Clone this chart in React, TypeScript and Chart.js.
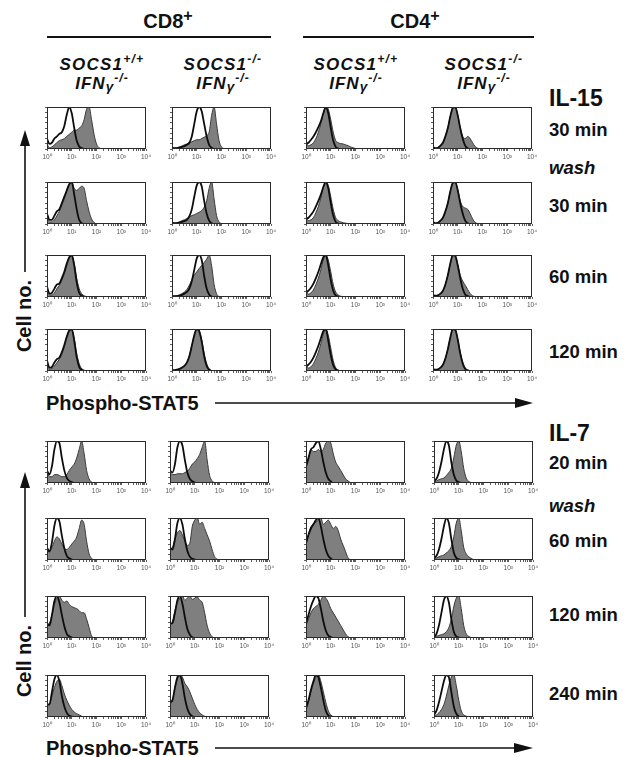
import React, { useEffect, useRef } from 'react';
import { Chart, registerables } from 'chart.js';

Chart.register(...registerables);

// ---------- axis / text content ----------
const LOG_BINS = [0, 0.1, 0.2, 0.3, 0.4, 0.5, 0.6, 0.7, 0.8, 0.9, 1.0, 1.1, 1.2, 1.3, 1.4, 1.5, 1.6, 1.7, 1.8, 1.9, 2.0, 2.1, 2.2, 4.0];
const X_TICK_LABELS = ['10⁰', '10¹', '10²', '10³', '10⁴'];
const GROUP_LABELS = ['CD8', 'CD4'];
const GENOTYPE_SUP = ['+/+', '-/-', '+/+', '-/-'];
const CYTOKINES = ['IL-15', 'IL-7'];
const IL15_ROW_LABELS = ['30 min', '30 min', '60 min', '120 min'];
const IL7_ROW_LABELS = ['20 min', '60 min', '120 min', '240 min'];
const WASH_LABEL = 'wash';
const X_TITLE = 'Phospho-STAT5';
const Y_TITLE = 'Cell no.';

// ---------- IL-15, 30 min ----------
const il15a_cd8wt_ctrl = [0.25, 0.12, 0.15, 0.25, 0.30, 0.36, 0.40, 0.55, 0.82, 1.00, 0.85, 0.50, 0.20, 0.06, 0.02, 0, 0, 0, 0, 0, 0, 0, 0, 0];
const il15a_cd8wt_stim = [0.12, 0.03, 0.05, 0.10, 0.15, 0.20, 0.22, 0.25, 0.30, 0.35, 0.40, 0.45, 0.45, 0.50, 0.55, 0.70, 0.95, 1.00, 0.70, 0.35, 0.12, 0.03, 0, 0];
const il15a_cd8ko_ctrl = [0.03, 0.02, 0.02, 0.03, 0.05, 0.07, 0.10, 0.15, 0.30, 0.60, 0.90, 1.00, 0.90, 0.60, 0.30, 0.10, 0.03, 0, 0, 0, 0, 0, 0, 0];
const il15a_cd8ko_stim = [0.02, 0.02, 0.03, 0.05, 0.07, 0.10, 0.12, 0.15, 0.17, 0.20, 0.22, 0.22, 0.25, 0.28, 0.32, 0.40, 0.80, 1.00, 0.60, 0.20, 0.05, 0.01, 0, 0];
const il15a_cd4wt_ctrl = [0.12, 0.15, 0.22, 0.30, 0.40, 0.52, 0.66, 0.85, 1.00, 0.85, 0.50, 0.20, 0.05, 0.01, 0, 0, 0, 0, 0, 0, 0, 0, 0, 0];
const il15a_cd4wt_stim = [0.15, 0.08, 0.10, 0.15, 0.25, 0.40, 0.60, 0.85, 1.00, 0.95, 0.70, 0.40, 0.20, 0.15, 0.13, 0.12, 0.10, 0.08, 0.05, 0.03, 0.01, 0, 0, 0];
const il15a_cd4ko_ctrl = [0.05, 0.02, 0.03, 0.08, 0.15, 0.30, 0.50, 0.78, 0.98, 1.00, 0.80, 0.50, 0.25, 0.08, 0.02, 0, 0, 0, 0, 0, 0, 0, 0, 0];
const il15a_cd4ko_stim = [0.05, 0.02, 0.03, 0.08, 0.15, 0.30, 0.50, 0.78, 0.98, 1.00, 0.80, 0.50, 0.30, 0.25, 0.30, 0.25, 0.15, 0.06, 0.02, 0, 0, 0, 0, 0];

// ---------- IL-15, wash 30 min ----------
const il15b_cd8wt_ctrl = [0.25, 0.10, 0.10, 0.20, 0.30, 0.35, 0.50, 0.65, 0.80, 0.95, 1.00, 0.70, 0.35, 0.10, 0.02, 0, 0, 0, 0, 0, 0, 0, 0, 0];
const il15b_cd8wt_stim = [0.15, 0.05, 0.05, 0.10, 0.20, 0.30, 0.45, 0.60, 0.80, 0.95, 1.00, 0.85, 0.80, 0.85, 0.90, 0.85, 0.55, 0.30, 0.12, 0.04, 0, 0, 0, 0];
const il15b_cd8ko_ctrl = [0.03, 0.02, 0.02, 0.03, 0.05, 0.07, 0.10, 0.18, 0.35, 0.65, 0.92, 1.00, 0.90, 0.55, 0.25, 0.08, 0.02, 0, 0, 0, 0, 0, 0, 0];
const il15b_cd8ko_stim = [0.02, 0.02, 0.03, 0.05, 0.08, 0.10, 0.13, 0.17, 0.20, 0.22, 0.25, 0.28, 0.32, 0.40, 0.55, 0.85, 1.00, 0.60, 0.20, 0.05, 0.01, 0, 0, 0];
const il15b_cd4wt_ctrl = [0.12, 0.15, 0.22, 0.30, 0.42, 0.55, 0.70, 0.88, 1.00, 0.85, 0.50, 0.20, 0.05, 0.01, 0, 0, 0, 0, 0, 0, 0, 0, 0, 0];
const il15b_cd4wt_stim = [0.15, 0.08, 0.10, 0.15, 0.27, 0.42, 0.62, 0.87, 1.00, 0.92, 0.65, 0.35, 0.15, 0.08, 0.05, 0.03, 0.02, 0.01, 0, 0, 0, 0, 0, 0];
const il15b_cd4ko_ctrl = [0.05, 0.02, 0.03, 0.08, 0.15, 0.30, 0.50, 0.78, 0.98, 1.00, 0.80, 0.50, 0.25, 0.08, 0.02, 0, 0, 0, 0, 0, 0, 0, 0, 0];
const il15b_cd4ko_stim = [0.05, 0.02, 0.03, 0.08, 0.15, 0.30, 0.50, 0.78, 0.98, 1.00, 0.82, 0.55, 0.42, 0.38, 0.35, 0.25, 0.12, 0.04, 0.01, 0, 0, 0, 0, 0];

// ---------- IL-15, 60 min ----------
const il15c_cd8wt_ctrl = [0.25, 0.08, 0.10, 0.20, 0.30, 0.32, 0.45, 0.60, 0.80, 0.95, 1.00, 0.75, 0.35, 0.10, 0.03, 0, 0, 0, 0, 0, 0, 0, 0, 0];
const il15c_cd8wt_stim = [0.15, 0.05, 0.05, 0.10, 0.20, 0.28, 0.40, 0.55, 0.75, 0.92, 0.98, 0.80, 0.45, 0.20, 0.08, 0.03, 0.01, 0, 0, 0, 0, 0, 0, 0];
const il15c_cd8ko_ctrl = [0.02, 0.02, 0.02, 0.03, 0.05, 0.08, 0.12, 0.20, 0.38, 0.65, 0.92, 1.00, 0.88, 0.50, 0.20, 0.06, 0.01, 0, 0, 0, 0, 0, 0, 0];
const il15c_cd8ko_stim = [0.02, 0.02, 0.03, 0.05, 0.08, 0.12, 0.18, 0.28, 0.40, 0.52, 0.60, 0.68, 0.75, 0.82, 0.90, 1.00, 0.75, 0.30, 0.08, 0.01, 0, 0, 0, 0];
const il15c_cd4wt_ctrl = [0.10, 0.15, 0.22, 0.32, 0.45, 0.60, 0.78, 0.95, 1.00, 0.75, 0.40, 0.15, 0.04, 0.01, 0, 0, 0, 0, 0, 0, 0, 0, 0, 0];
const il15c_cd4wt_stim = [0.12, 0.07, 0.10, 0.17, 0.30, 0.45, 0.65, 0.88, 1.00, 0.88, 0.60, 0.30, 0.12, 0.05, 0.02, 0.01, 0, 0, 0, 0, 0, 0, 0, 0];
const il15c_cd4ko_ctrl = [0.05, 0.03, 0.04, 0.08, 0.15, 0.30, 0.52, 0.80, 1.00, 0.98, 0.75, 0.45, 0.20, 0.06, 0.02, 0, 0, 0, 0, 0, 0, 0, 0, 0];
const il15c_cd4ko_stim = [0.05, 0.03, 0.04, 0.08, 0.15, 0.30, 0.52, 0.80, 1.00, 0.98, 0.78, 0.52, 0.38, 0.28, 0.18, 0.08, 0.03, 0.01, 0, 0, 0, 0, 0, 0];

// ---------- IL-15, 120 min ----------
const il15d_cd8wt_ctrl = [0.25, 0.08, 0.10, 0.20, 0.28, 0.32, 0.45, 0.62, 0.82, 0.97, 1.00, 0.72, 0.33, 0.10, 0.03, 0, 0, 0, 0, 0, 0, 0, 0, 0];
const il15d_cd8wt_stim = [0.15, 0.05, 0.06, 0.12, 0.20, 0.28, 0.40, 0.58, 0.78, 0.95, 0.98, 0.78, 0.42, 0.18, 0.06, 0.02, 0, 0, 0, 0, 0, 0, 0, 0];
const il15d_cd8ko_ctrl = [0.02, 0.02, 0.03, 0.05, 0.08, 0.12, 0.20, 0.35, 0.60, 0.85, 1.00, 0.95, 0.70, 0.35, 0.12, 0.03, 0, 0, 0, 0, 0, 0, 0, 0];
const il15d_cd8ko_stim = [0.02, 0.02, 0.03, 0.05, 0.08, 0.12, 0.20, 0.35, 0.60, 0.85, 1.00, 0.95, 0.75, 0.42, 0.18, 0.06, 0.01, 0, 0, 0, 0, 0, 0, 0];
const il15d_cd4wt_ctrl = [0.10, 0.15, 0.22, 0.32, 0.45, 0.60, 0.78, 0.95, 1.00, 0.72, 0.38, 0.14, 0.04, 0.01, 0, 0, 0, 0, 0, 0, 0, 0, 0, 0];
const il15d_cd4wt_stim = [0.12, 0.07, 0.10, 0.17, 0.30, 0.45, 0.65, 0.88, 1.00, 0.85, 0.55, 0.25, 0.08, 0.02, 0, 0, 0, 0, 0, 0, 0, 0, 0, 0];
const il15d_cd4ko_ctrl = [0.05, 0.03, 0.04, 0.08, 0.15, 0.30, 0.52, 0.80, 1.00, 0.98, 0.75, 0.42, 0.18, 0.05, 0.01, 0, 0, 0, 0, 0, 0, 0, 0, 0];
const il15d_cd4ko_stim = [0.05, 0.03, 0.04, 0.08, 0.15, 0.30, 0.52, 0.80, 1.00, 0.98, 0.76, 0.45, 0.22, 0.08, 0.03, 0.01, 0, 0, 0, 0, 0, 0, 0, 0];

// ---------- IL-7, 20 min ----------
const il7a_cd8wt_ctrl = [0.30, 0.20, 0.40, 0.80, 1.00, 0.95, 0.60, 0.30, 0.12, 0.05, 0.02, 0, 0, 0, 0, 0, 0, 0, 0, 0, 0, 0, 0, 0];
const il7a_cd8wt_stim = [0.25, 0.15, 0.15, 0.20, 0.20, 0.18, 0.15, 0.15, 0.20, 0.30, 0.38, 0.45, 0.60, 0.80, 1.00, 0.70, 0.30, 0.10, 0.02, 0, 0, 0, 0, 0];
const il7a_cd8ko_ctrl = [0.30, 0.25, 0.45, 0.85, 1.00, 0.90, 0.55, 0.25, 0.10, 0.04, 0.01, 0, 0, 0, 0, 0, 0, 0, 0, 0, 0, 0, 0, 0];
const il7a_cd8ko_stim = [0.25, 0.20, 0.20, 0.22, 0.22, 0.22, 0.25, 0.28, 0.35, 0.45, 0.50, 0.58, 0.68, 0.85, 1.00, 0.55, 0.18, 0.05, 0.01, 0, 0, 0, 0, 0];
const il7a_cd4wt_ctrl = [0.40, 0.60, 0.80, 0.85, 0.95, 1.00, 0.80, 0.50, 0.25, 0.10, 0.04, 0, 0, 0, 0, 0, 0, 0, 0, 0, 0, 0, 0, 0];
const il7a_cd4wt_stim = [0.35, 0.55, 0.80, 0.75, 0.75, 0.80, 0.75, 0.80, 0.95, 1.00, 0.95, 0.70, 0.50, 0.40, 0.30, 0.20, 0.10, 0.05, 0.01, 0, 0, 0, 0, 0];
const il7a_cd4ko_ctrl = [0.05, 0.10, 0.25, 0.50, 0.80, 1.00, 0.90, 0.50, 0.20, 0.06, 0.02, 0, 0, 0, 0, 0, 0, 0, 0, 0, 0, 0, 0, 0];
const il7a_cd4ko_stim = [0.02, 0.05, 0.08, 0.10, 0.12, 0.18, 0.25, 0.35, 0.60, 0.90, 1.00, 0.75, 0.35, 0.12, 0.04, 0.01, 0, 0, 0, 0, 0, 0, 0, 0];

// ---------- IL-7, wash 60 min ----------
const il7b_cd8wt_ctrl = [0.30, 0.20, 0.42, 0.82, 1.00, 0.92, 0.58, 0.28, 0.10, 0.04, 0.01, 0, 0, 0, 0, 0, 0, 0, 0, 0, 0, 0, 0, 0];
const il7b_cd8wt_stim = [0.25, 0.20, 0.30, 0.45, 0.55, 0.50, 0.38, 0.28, 0.25, 0.30, 0.38, 0.45, 0.55, 0.75, 0.95, 0.85, 0.45, 0.15, 0.04, 0, 0, 0, 0, 0];
const il7b_cd8ko_ctrl = [0.30, 0.25, 0.50, 0.88, 1.00, 0.85, 0.50, 0.22, 0.08, 0.03, 0.01, 0, 0, 0, 0, 0, 0, 0, 0, 0, 0, 0, 0, 0];
const il7b_cd8ko_stim = [0.25, 0.30, 0.50, 0.65, 0.70, 0.60, 0.45, 0.35, 0.40, 0.80, 0.95, 1.00, 0.85, 0.90, 0.75, 0.60, 0.45, 0.25, 0.08, 0.02, 0, 0, 0, 0];
const il7b_cd4wt_ctrl = [0.40, 0.60, 0.75, 0.85, 0.95, 1.00, 0.80, 0.50, 0.25, 0.10, 0.04, 0, 0, 0, 0, 0, 0, 0, 0, 0, 0, 0, 0, 0];
const il7b_cd4wt_stim = [0.35, 0.60, 0.80, 0.85, 0.90, 0.95, 1.00, 0.85, 0.90, 0.95, 0.85, 0.75, 0.80, 0.70, 0.50, 0.35, 0.20, 0.05, 0.01, 0, 0, 0, 0, 0];
const il7b_cd4ko_ctrl = [0.05, 0.10, 0.25, 0.50, 0.80, 1.00, 0.88, 0.50, 0.18, 0.05, 0.02, 0, 0, 0, 0, 0, 0, 0, 0, 0, 0, 0, 0, 0];
const il7b_cd4ko_stim = [0.02, 0.05, 0.08, 0.10, 0.12, 0.17, 0.22, 0.32, 0.55, 0.88, 1.00, 0.70, 0.30, 0.15, 0.08, 0.04, 0.01, 0, 0, 0, 0, 0, 0, 0];

// ---------- IL-7, 120 min ----------
const il7c_cd8wt_ctrl = [0.35, 0.30, 0.55, 0.88, 1.00, 0.85, 0.55, 0.28, 0.10, 0.04, 0.01, 0, 0, 0, 0, 0, 0, 0, 0, 0, 0, 0, 0, 0];
const il7c_cd8wt_stim = [0.30, 0.35, 0.55, 0.80, 0.95, 1.00, 0.90, 0.85, 0.88, 0.80, 0.75, 0.72, 0.70, 0.65, 0.60, 0.60, 0.45, 0.25, 0.05, 0, 0, 0, 0, 0];
const il7c_cd8ko_ctrl = [0.35, 0.35, 0.60, 0.90, 1.00, 0.82, 0.50, 0.22, 0.08, 0.02, 0, 0, 0, 0, 0, 0, 0, 0, 0, 0, 0, 0, 0, 0];
const il7c_cd8ko_stim = [0.30, 0.40, 0.65, 0.85, 0.95, 1.00, 0.90, 0.95, 1.00, 0.92, 0.95, 0.98, 0.90, 0.85, 0.60, 0.30, 0.12, 0.03, 0, 0, 0, 0, 0, 0];
const il7c_cd4wt_ctrl = [0.35, 0.55, 0.75, 0.90, 1.00, 0.95, 0.70, 0.40, 0.18, 0.06, 0.02, 0, 0, 0, 0, 0, 0, 0, 0, 0, 0, 0, 0, 0];
const il7c_cd4wt_stim = [0.30, 0.45, 0.60, 0.70, 0.75, 0.80, 0.90, 1.00, 0.95, 0.85, 0.70, 0.60, 0.50, 0.40, 0.30, 0.20, 0.10, 0.03, 0, 0, 0, 0, 0, 0];
const il7c_cd4ko_ctrl = [0.02, 0.10, 0.30, 0.60, 0.90, 1.00, 0.85, 0.45, 0.15, 0.04, 0.01, 0, 0, 0, 0, 0, 0, 0, 0, 0, 0, 0, 0, 0];
const il7c_cd4ko_stim = [0.02, 0.04, 0.06, 0.08, 0.10, 0.15, 0.25, 0.45, 0.75, 0.95, 1.00, 0.70, 0.30, 0.10, 0.04, 0.01, 0, 0, 0, 0, 0, 0, 0, 0];

// ---------- IL-7, 240 min ----------
const il7d_cd8wt_ctrl = [0.30, 0.30, 0.60, 0.90, 1.00, 0.85, 0.50, 0.25, 0.10, 0.03, 0.01, 0, 0, 0, 0, 0, 0, 0, 0, 0, 0, 0, 0, 0];
const il7d_cd8wt_stim = [0.25, 0.30, 0.50, 0.70, 0.85, 0.90, 0.75, 0.55, 0.40, 0.28, 0.18, 0.12, 0.08, 0.05, 0.02, 0, 0, 0, 0, 0, 0, 0, 0, 0];
const il7d_cd8ko_ctrl = [0.35, 0.40, 0.70, 0.95, 1.00, 0.80, 0.45, 0.20, 0.07, 0.02, 0, 0, 0, 0, 0, 0, 0, 0, 0, 0, 0, 0, 0, 0];
const il7d_cd8ko_stim = [0.30, 0.40, 0.70, 0.90, 1.00, 0.95, 0.80, 0.72, 0.60, 0.45, 0.30, 0.18, 0.10, 0.05, 0.02, 0, 0, 0, 0, 0, 0, 0, 0, 0];
const il7d_cd4wt_ctrl = [0.20, 0.40, 0.65, 0.85, 1.00, 0.95, 0.70, 0.40, 0.15, 0.04, 0.01, 0, 0, 0, 0, 0, 0, 0, 0, 0, 0, 0, 0, 0];
const il7d_cd4wt_stim = [0.25, 0.38, 0.60, 0.80, 0.95, 1.00, 0.85, 0.60, 0.35, 0.15, 0.05, 0.01, 0, 0, 0, 0, 0, 0, 0, 0, 0, 0, 0, 0];
const il7d_cd4ko_ctrl = [0.05, 0.15, 0.35, 0.60, 0.85, 1.00, 0.95, 0.60, 0.25, 0.08, 0.02, 0, 0, 0, 0, 0, 0, 0, 0, 0, 0, 0, 0, 0];
const il7d_cd4ko_stim = [0.02, 0.05, 0.10, 0.18, 0.30, 0.50, 0.75, 0.95, 1.00, 0.75, 0.40, 0.15, 0.05, 0.02, 0, 0, 0, 0, 0, 0, 0, 0, 0, 0];

// panel tables built from the named arrays: [control, stimulated]
const IL15_ROWS = [
  [[il15a_cd8wt_ctrl, il15a_cd8wt_stim], [il15a_cd8ko_ctrl, il15a_cd8ko_stim], [il15a_cd4wt_ctrl, il15a_cd4wt_stim], [il15a_cd4ko_ctrl, il15a_cd4ko_stim]],
  [[il15b_cd8wt_ctrl, il15b_cd8wt_stim], [il15b_cd8ko_ctrl, il15b_cd8ko_stim], [il15b_cd4wt_ctrl, il15b_cd4wt_stim], [il15b_cd4ko_ctrl, il15b_cd4ko_stim]],
  [[il15c_cd8wt_ctrl, il15c_cd8wt_stim], [il15c_cd8ko_ctrl, il15c_cd8ko_stim], [il15c_cd4wt_ctrl, il15c_cd4wt_stim], [il15c_cd4ko_ctrl, il15c_cd4ko_stim]],
  [[il15d_cd8wt_ctrl, il15d_cd8wt_stim], [il15d_cd8ko_ctrl, il15d_cd8ko_stim], [il15d_cd4wt_ctrl, il15d_cd4wt_stim], [il15d_cd4ko_ctrl, il15d_cd4ko_stim]],
];
const IL7_ROWS = [
  [[il7a_cd8wt_ctrl, il7a_cd8wt_stim], [il7a_cd8ko_ctrl, il7a_cd8ko_stim], [il7a_cd4wt_ctrl, il7a_cd4wt_stim], [il7a_cd4ko_ctrl, il7a_cd4ko_stim]],
  [[il7b_cd8wt_ctrl, il7b_cd8wt_stim], [il7b_cd8ko_ctrl, il7b_cd8ko_stim], [il7b_cd4wt_ctrl, il7b_cd4wt_stim], [il7b_cd4ko_ctrl, il7b_cd4ko_stim]],
  [[il7c_cd8wt_ctrl, il7c_cd8wt_stim], [il7c_cd8ko_ctrl, il7c_cd8ko_stim], [il7c_cd4wt_ctrl, il7c_cd4wt_stim], [il7c_cd4ko_ctrl, il7c_cd4ko_stim]],
  [[il7d_cd8wt_ctrl, il7d_cd8wt_stim], [il7d_cd8ko_ctrl, il7d_cd8ko_stim], [il7d_cd4wt_ctrl, il7d_cd4wt_stim], [il7d_cd4ko_ctrl, il7d_cd4ko_stim]],
];

// ---------- layout (positions/sizes) ----------
const COL_X_TOP = [47, 172, 306, 433];
const COL_X_BOTTOM = [47, 170, 306, 434];
const ROW_Y_TOP = [107, 182, 255, 329];
const ROW_Y_BOTTOM = [441, 518, 596, 675];
const FRAME_W = 99;
const FRAME_H = 42;
const PAD_L = 6;
const AXIS_Y_W = 2;
const PAD_R = 8;
const PAD_T = 2;
const AXIS_X_H = 13;
const FONT = '"Liberation Sans", Arial, Helvetica, sans-serif';

const X_MINOR: number[] = [];
for (let d = 0; d < 4; d++) {
  for (let k = 1; k <= 9; k++) X_MINOR.push(d + Math.log10(k));
}
X_MINOR.push(4);
const Y_TICKS = [0, 0.125, 0.25, 0.375, 0.5, 0.625, 0.75, 0.875, 1];

const framePlugin = {
  id: 'frameBox',
  afterDraw(chart: any) {
    const { ctx, chartArea: a } = chart;
    ctx.save();
    ctx.strokeStyle = '#2a2a2a';
    ctx.lineWidth = 1;
    ctx.strokeRect(Math.round(a.left) + 0.5, Math.round(a.top) + 0.5, Math.round(a.right - a.left) - 1, Math.round(a.bottom - a.top) - 1);
    ctx.restore();
  },
};

function Histogram({ x, y, ctrl, stim }: { x: number; y: number; ctrl: number[]; stim: number[] }) {
  const ref = useRef<HTMLCanvasElement>(null);
  const W = PAD_L + AXIS_Y_W + FRAME_W + PAD_R;
  const H = PAD_T + FRAME_H + AXIS_X_H;
  useEffect(() => {
    if (!ref.current) return;
    const chart = new Chart(ref.current, {
      type: 'line',
      data: {
        datasets: [
          {
            data: LOG_BINS.map((b, i) => ({ x: b, y: ctrl[i] })),
            borderColor: '#0d0d0d',
            borderWidth: 1.8,
            fill: false,
            pointRadius: 0,
            cubicInterpolationMode: 'monotone',
          },
          {
            data: LOG_BINS.map((b, i) => ({ x: b, y: stim[i] })),
            borderColor: '#3a3a3a',
            borderWidth: 1,
            backgroundColor: '#7f7f7f',
            fill: 'origin',
            pointRadius: 0,
            cubicInterpolationMode: 'monotone',
          },
        ],
      },
      options: {
        animation: false,
        responsive: false,
        devicePixelRatio: 1,
        events: [],
        layout: { padding: { left: PAD_L, right: PAD_R, top: PAD_T, bottom: 0 } },
        plugins: { legend: { display: false }, tooltip: { enabled: false } },
        scales: {
          x: {
            type: 'linear',
            min: 0,
            max: 4,
            afterBuildTicks: (s: any) => {
              s.ticks = X_MINOR.map((v) => ({ value: v }));
            },
            afterFit: (s: any) => {
              s.height = AXIS_X_H;
            },
            border: { display: false },
            grid: { drawOnChartArea: false, tickLength: 2, color: '#333', lineWidth: 0.8 },
            ticks: {
              autoSkip: false,
              maxRotation: 0,
              minRotation: 0,
              padding: 2,
              color: '#555',
              font: { size: 6.5, family: FONT },
              callback: (v: any) => {
                const n = Number(v);
                return Math.abs(n - Math.round(n)) < 1e-9 ? X_TICK_LABELS[Math.round(n)] : '';
              },
            },
          },
          y: {
            min: 0,
            max: 1,
            afterBuildTicks: (s: any) => {
              s.ticks = Y_TICKS.map((v) => ({ value: v }));
            },
            afterFit: (s: any) => {
              s.width = AXIS_Y_W;
            },
            border: { display: false },
            grid: { drawOnChartArea: false, tickLength: 2, color: '#333', lineWidth: 0.8 },
            ticks: { display: false },
          },
        },
      },
      plugins: [framePlugin],
    } as any);
    return () => chart.destroy();
  }, []);
  return (
    <canvas
      ref={ref}
      width={W}
      height={H}
      style={{ position: 'absolute', left: x - PAD_L - AXIS_Y_W, top: y - PAD_T, width: W, height: H }}
    />
  );
}

const base: React.CSSProperties = {
  position: 'absolute',
  fontFamily: FONT,
  fontWeight: 'bold',
  color: '#111',
  whiteSpace: 'nowrap',
  lineHeight: 1,
};
const sup: React.CSSProperties = { fontSize: '0.72em', verticalAlign: '0.55em', lineHeight: 0 };

function Centered({ x, y, size, italic, spacing, children }: any) {
  return (
    <div
      style={{
        ...base,
        left: x,
        top: y,
        fontSize: size,
        letterSpacing: spacing || 0,
        fontStyle: italic ? 'italic' : 'normal',
        transform: 'translate(-50%, -50%)',
      }}
    >
      {children}
    </div>
  );
}
function LeftMid({ x, y, size, italic, children }: any) {
  return (
    <div style={{ ...base, left: x, top: y, fontSize: size, fontStyle: italic ? 'italic' : 'normal', transform: 'translateY(-50%)' }}>
      {children}
    </div>
  );
}

const HEADER_X = [102, 223, 356, 484];
const GROUP_X = [168, 415];
const IL15_LABEL_Y = [130, 206, 277, 352];
const IL7_LABEL_Y = [463, 541, 615, 694];

export default function App() {
  const panels: any[] = [];
  IL15_ROWS.forEach((row, r) =>
    row.forEach(([c, s], ci) => panels.push({ key: `a${r}${ci}`, x: COL_X_TOP[ci], y: ROW_Y_TOP[r], ctrl: c, stim: s }))
  );
  IL7_ROWS.forEach((row, r) =>
    row.forEach(([c, s], ci) => panels.push({ key: `b${r}${ci}`, x: COL_X_BOTTOM[ci], y: ROW_Y_BOTTOM[r], ctrl: c, stim: s }))
  );

  return (
    <div style={{ position: 'absolute', left: 0, top: 0, width: 630, height: 757, background: '#fff', overflow: 'hidden' }}>
      <svg width={630} height={757} style={{ position: 'absolute', left: 0, top: 0 }}>
        <line x1={47} y1={37} x2={271} y2={37} stroke="#111" strokeWidth={2} />
        <line x1={303} y1={37} x2={534} y2={37} stroke="#111" strokeWidth={2} />
        {/* horizontal arrows */}
        <line x1={215} y1={403} x2={518} y2={403} stroke="#111" strokeWidth={1.6} />
        <polygon points="515,398 533,403 515,408" fill="#111" />
        <line x1={215} y1={748} x2={518} y2={748} stroke="#111" strokeWidth={1.6} />
        <polygon points="514,743 533,748 514,753" fill="#111" />
        {/* vertical arrows */}
        <line x1={25} y1={144} x2={25} y2={272} stroke="#111" strokeWidth={1.6} />
        <polygon points="25,130 20,146 30,146" fill="#111" />
        <line x1={25} y1={486} x2={25} y2={617} stroke="#111" strokeWidth={1.6} />
        <polygon points="25,472 20,488 30,488" fill="#111" />
      </svg>

      {panels.map((p) => (
        <Histogram key={p.key} x={p.x} y={p.y} ctrl={p.ctrl} stim={p.stim} />
      ))}

      {GROUP_LABELS.map((g, i) => (
        <Centered key={g} x={GROUP_X[i]} y={21} size={20}>
          {g}
          <span style={{ fontSize: '0.8em', verticalAlign: '0.45em', lineHeight: 0 }}>+</span>
        </Centered>
      ))}

      {GENOTYPE_SUP.map((gs, i) => (
        <React.Fragment key={i}>
          <Centered x={HEADER_X[i]} y={64} size={17} italic spacing="1.2px">
            SOCS1<span style={sup}>{gs}</span>
          </Centered>
          <Centered x={HEADER_X[i]} y={84} size={17} italic spacing="1px">
            IFN<span style={{ fontSize: '0.8em', verticalAlign: '-0.15em' }}>γ</span>
            <span style={sup}>-/-</span>
          </Centered>
        </React.Fragment>
      ))}

      <LeftMid x={549} y={98} size={23}>{CYTOKINES[0]}</LeftMid>
      {IL15_ROW_LABELS.map((t, i) => (
        <LeftMid key={'l15' + i} x={549} y={IL15_LABEL_Y[i]} size={18.5}>{t}</LeftMid>
      ))}
      <LeftMid x={549} y={168} size={18.5} italic>{WASH_LABEL}</LeftMid>

      <LeftMid x={549} y={433} size={23}>{CYTOKINES[1]}</LeftMid>
      {IL7_ROW_LABELS.map((t, i) => (
        <LeftMid key={'l7' + i} x={549} y={IL7_LABEL_Y[i]} size={18.5}>{t}</LeftMid>
      ))}
      <LeftMid x={549} y={506} size={18.5} italic>{WASH_LABEL}</LeftMid>

      <LeftMid x={46} y={403} size={20}>{X_TITLE}</LeftMid>
      <LeftMid x={46} y={748} size={20}>{X_TITLE}</LeftMid>

      <div style={{ ...base, left: 24, top: 316, fontSize: 20, transform: 'translate(-50%, -50%) rotate(-90deg)' }}>{Y_TITLE}</div>
      <div style={{ ...base, left: 24, top: 661, fontSize: 20, transform: 'translate(-50%, -50%) rotate(-90deg)' }}>{Y_TITLE}</div>
    </div>
  );
}
